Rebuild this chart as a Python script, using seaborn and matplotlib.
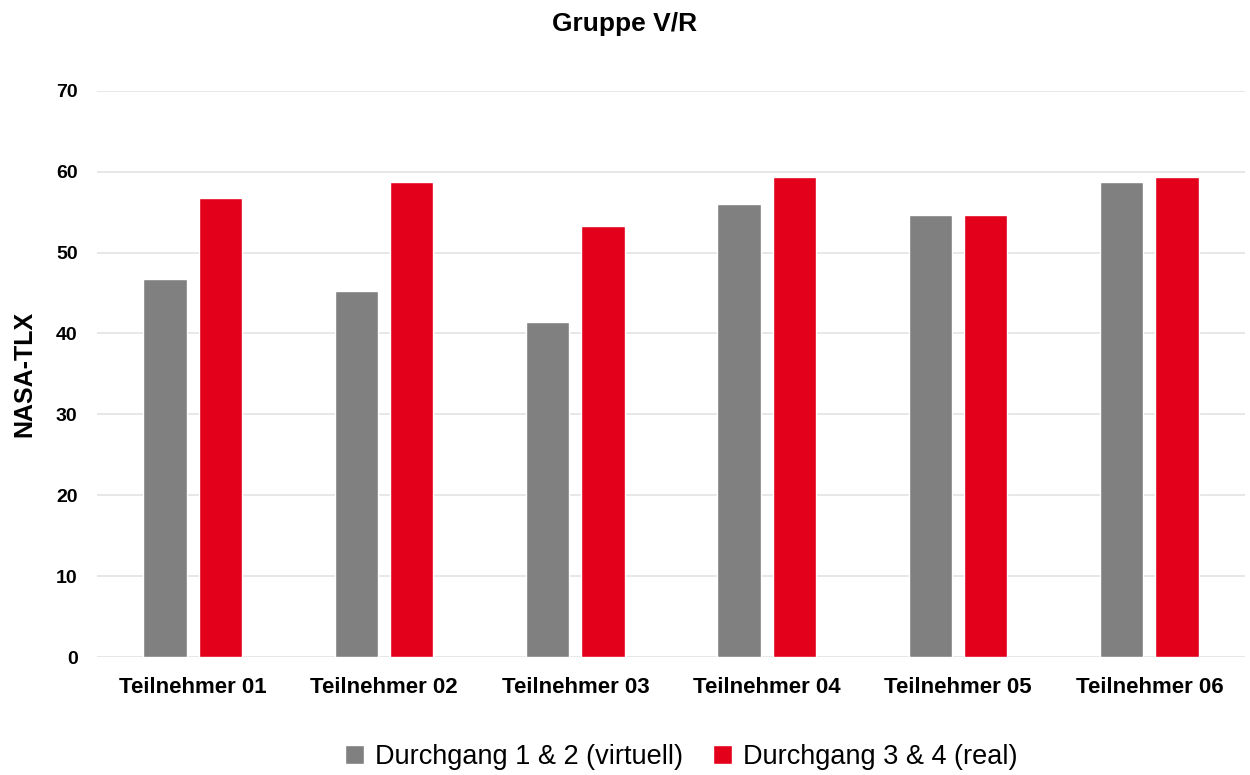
import pandas as pd
import matplotlib
matplotlib.use("Agg")
import matplotlib.pyplot as plt
import seaborn as sns

# ==========================================================
# DATA
# ==========================================================

teilnehmer = ["Teilnehmer 01", "Teilnehmer 02", "Teilnehmer 03",
              "Teilnehmer 04", "Teilnehmer 05", "Teilnehmer 06"]

virtuell = [46.7, 45.3, 41.4, 56.0, 54.6, 58.7]
real = [56.7, 58.7, 53.3, 59.3, 54.6, 59.3]

serie_namen = ["Durchgang 1 & 2 (virtuell)", "Durchgang 3 & 4 (real)"]
y_ticks = [0, 10, 20, 30, 40, 50, 60, 70]

df = pd.DataFrame({
    "Teilnehmer": teilnehmer * 2,
    "NASA-TLX": virtuell + real,
    "Durchgang": [serie_namen[0]] * len(teilnehmer) + [serie_namen[1]] * len(teilnehmer),
})

# ==========================================================
# STYLE
# ==========================================================

sns.set_style("white")
plt.rcParams["font.family"] = ["Liberation Sans", "DejaVu Sans"]
plt.rcParams["text.color"] = "black"
plt.rcParams["xtick.color"] = "black"
plt.rcParams["ytick.color"] = "black"
plt.rcParams["axes.labelcolor"] = "black"

farben = {serie_namen[0]: "#808080", serie_namen[1]: "#E3001B"}

# ==========================================================
# PLOT
# ==========================================================

fig = plt.figure(figsize=(12.5, 7.75), dpi=100)
ax = fig.add_axes([0.0776, 0.152, 0.9184, 0.731])

sns.barplot(
    data=df,
    x="Teilnehmer",
    y="NASA-TLX",
    hue="Durchgang",
    palette=farben,
    width=0.58,
    gap=0.22,
    saturation=1,
    errorbar=None,
    ax=ax,
    zorder=3,
)

ax.set_ylim(0, 70)
ax.set_yticks(y_ticks)
ax.yaxis.grid(True, color="#E0E0E0", linewidth=1.1, zorder=0)
ax.set_axisbelow(True)
sns.despine(ax=ax, left=True, top=True, right=True, bottom=True)

ax.tick_params(axis="both", length=0)
ax.tick_params(axis="y", pad=14, labelsize=14)
ax.tick_params(axis="x", pad=14, labelsize=16)
for lbl in ax.get_xticklabels() + ax.get_yticklabels():
    lbl.set_fontweight("bold")

ax.set_xlabel("")
ax.set_ylabel("NASA-TLX", fontsize=18, fontweight="bold")
ax.yaxis.set_label_coords(-0.053, 0.5)

fig.suptitle("Gruppe V/R", fontsize=19, fontweight="bold", y=0.985)

handles, labels = ax.get_legend_handles_labels()
ax.legend_.remove()
fig.legend(
    handles,
    labels,
    loc="center",
    bbox_to_anchor=(0.545, 0.023),
    ncol=2,
    frameon=False,
    fontsize=19.5,
    handlelength=0.7,
    handleheight=0.7,
    handletextpad=0.4,
    columnspacing=1.1,
)

fig.savefig("out.png", dpi=100)
